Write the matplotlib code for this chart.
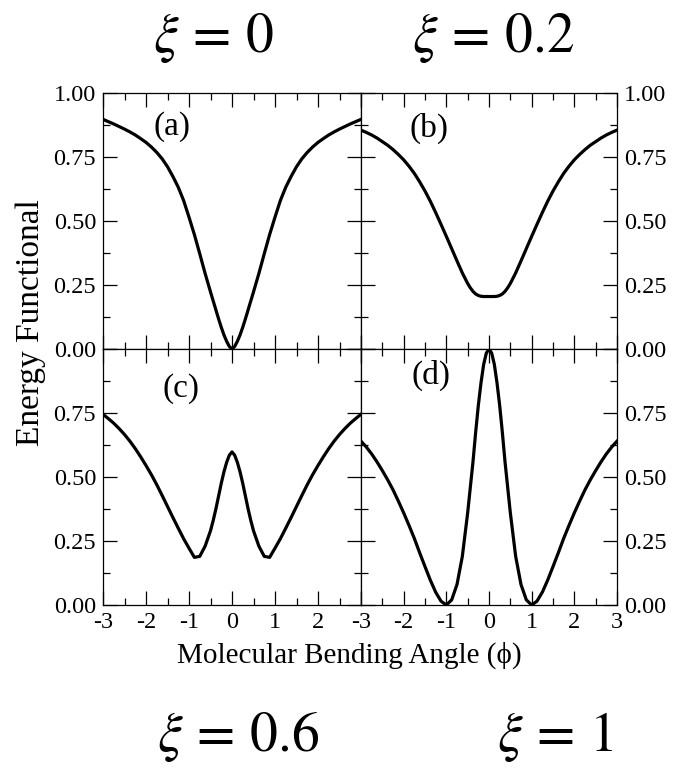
import matplotlib
matplotlib.use('Agg')
import matplotlib.pyplot as plt
from matplotlib.ticker import MultipleLocator, FuncFormatter

plt.rcParams['font.family'] = ['Liberation Serif', 'DejaVu Serif']
plt.rcParams['mathtext.fontset'] = 'stix'

# bending angle samples, left half (curves are symmetric about 0)
phi_half = [-3, -2.875, -2.75, -2.625, -2.5, -2.375, -2.25, -2.125, -2,
            -1.875, -1.75, -1.625, -1.5, -1.375, -1.25, -1.125, -1,
            -0.875, -0.75, -0.625, -0.5, -0.4375, -0.375, -0.3125, -0.25,
            -0.1875, -0.125, -0.0625, 0]

# values, same order as phi_half
energy_a_half = [0.897, 0.888, 0.879, 0.869, 0.859, 0.848, 0.836, 0.822, 0.807,
                 0.789, 0.768, 0.743, 0.712, 0.674, 0.632, 0.58, 0.515,
                 0.447, 0.372, 0.295, 0.223, 0.188, 0.153, 0.118, 0.085,
                 0.055, 0.03, 0.01, 0.0]
energy_b_half = [0.855, 0.846, 0.836, 0.824, 0.81, 0.796, 0.779, 0.76, 0.739,
                 0.714, 0.686, 0.653, 0.617, 0.577, 0.533, 0.487, 0.44,
                 0.392, 0.344, 0.297, 0.256, 0.239, 0.225, 0.215, 0.209,
                 0.206, 0.205, 0.205, 0.205]
energy_c_half = [0.745, 0.728, 0.71, 0.689, 0.666, 0.64, 0.611, 0.579, 0.545,
                 0.509, 0.47, 0.428, 0.385, 0.342, 0.3, 0.259, 0.222,
                 0.186, 0.19, 0.23, 0.29, 0.33, 0.375, 0.425, 0.475,
                 0.52, 0.557, 0.585, 0.598]
energy_d_half = [0.64, 0.617, 0.59, 0.559, 0.525, 0.489, 0.45, 0.406, 0.36,
                 0.311, 0.26, 0.204, 0.15, 0.097, 0.05, 0.015, 0.0,
                 0.02, 0.08, 0.19, 0.36, 0.46, 0.56, 0.675, 0.78,
                 0.868, 0.94, 0.984, 1.0]

def mirror_x(h):
    return h + [-v for v in reversed(h[:-1])]

def mirror_y(h):
    return h + list(reversed(h[:-1]))

phi = mirror_x(phi_half)
curves = [mirror_y(energy_a_half), mirror_y(energy_b_half),
          mirror_y(energy_c_half), mirror_y(energy_d_half)]

panel_tags = ['(a)', '(b)', '(c)', '(d)']
xi_labels = [r'$\xi\,=\,0$', r'$\xi\,=\,0.2$', r'$\xi\,=\,0.6$', r'$\xi\,=\,1$']

fig = plt.figure(figsize=(6.75, 7.69), dpi=100, facecolor='white')

W, H = 675.0, 769.0
x0, xm, x1 = 103, 361, 617
yt, ym, yb = 93, 349, 605

def box(l, r, t, b):
    return [l / W, 1 - b / H, (r - l) / W, (b - t) / H]

ax_a = fig.add_axes(box(x0, xm, yt, ym))
ax_b = fig.add_axes(box(xm, x1, yt, ym))
ax_c = fig.add_axes(box(x0, xm, ym, yb))
ax_d = fig.add_axes(box(xm, x1, ym, yb))
axes = [ax_a, ax_b, ax_c, ax_d]
tag_pos = [(-1.4, 0.867), (-1.4, 0.863), (-1.19, 0.844), (-1.35, 0.895)]

tick_fs = 17.5

for i, (ax, y) in enumerate(zip(axes, curves)):
    ax.plot(phi, y, color='black', lw=2.3, solid_joinstyle='round')
    ax.set_xlim(-3, 3)
    ax.set_ylim(0, 1)
    ax.xaxis.set_major_locator(MultipleLocator(1))
    ax.xaxis.set_minor_locator(MultipleLocator(0.5))
    ax.yaxis.set_major_locator(MultipleLocator(0.25))
    ax.yaxis.set_minor_locator(MultipleLocator(0.125))
    ax.tick_params(which='both', direction='in', top=True, bottom=True,
                   left=True, right=True, width=0.9, color='black')
    ax.tick_params(which='major', length=10)
    ax.tick_params(which='minor', length=5)
    for s in ax.spines.values():
        s.set_linewidth(0.9)

    right_col = i in (1, 3)
    bottom_row = i in (2, 3)

    ax.tick_params(axis='y', labelleft=not right_col, labelright=right_col,
                   labelsize=tick_fs, pad=5)
    ax.tick_params(axis='x', labelbottom=bottom_row, labelsize=tick_fs, pad=5)

    if bottom_row:
        ax.yaxis.set_major_formatter(FuncFormatter(
            lambda v, p: '' if v > 0.99 else f'{v:.2f}'))
    else:
        ax.yaxis.set_major_formatter(FuncFormatter(lambda v, p: f'{v:.2f}'))

    if i == 2:
        ax.xaxis.set_major_formatter(FuncFormatter(
            lambda v, p: '' if v > 2.5 else f'{v:.0f}'))
    else:
        ax.xaxis.set_major_formatter(FuncFormatter(lambda v, p: f'{v:.0f}'))

    tx, ty = tag_pos[i]
    ax.text(tx, ty, panel_tags[i], fontsize=24, ha='center', va='center')

fig.text(31 / W, 1 - 323 / H, 'Energy Functional', rotation=90,
         fontsize=24, ha='center', va='center')
fig.text(349 / W, 1 - 655 / H, 'Molecular Bending Angle (\u03d5)',
         fontsize=21, ha='center', va='center')

# xi annotations around the panels
xi_pos = [(214, 38), (493, 38), (238, 737), (555, 737)]
for lab, (px, py) in zip(xi_labels, xi_pos):
    fig.text(px / W, 1 - py / H, lab, fontsize=40, ha='center', va='center')

fig.savefig('out.png', dpi=100, facecolor='white')
